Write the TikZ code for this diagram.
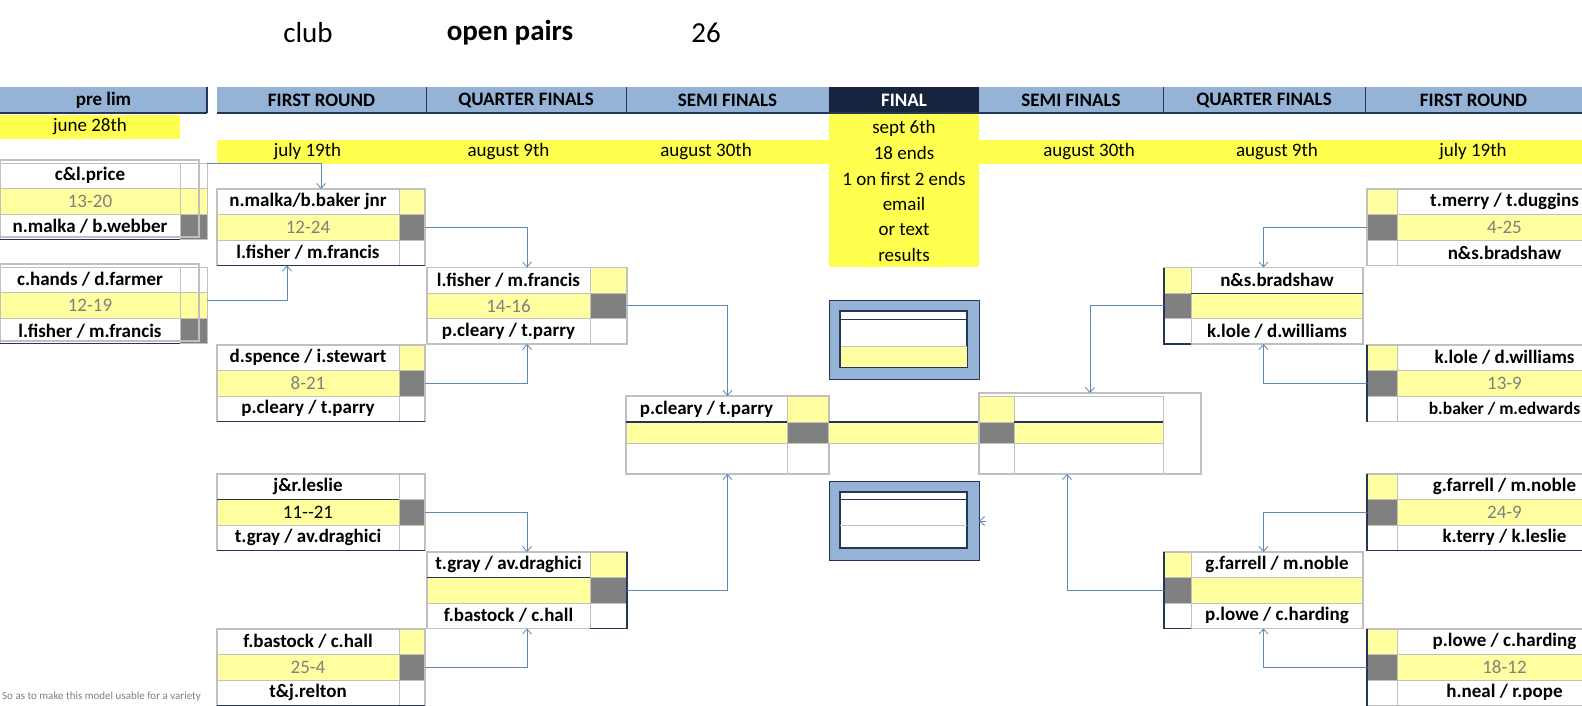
\documentclass[tikz,border=0pt]{standalone}
\usepackage{fontspec}
\setmainfont{Carlito}
\usetikzlibrary{arrows.meta,calc}
\definecolor{hdrblue}{RGB}{149,179,215}
\definecolor{navy}{RGB}{22,36,62}
\definecolor{dateyel}{RGB}{255,255,80}
\definecolor{lightyel}{RGB}{255,255,160}
\definecolor{dgray}{RGB}{128,128,128}
\definecolor{frgray}{RGB}{192,192,192}
\definecolor{connblue}{RGB}{95,135,190}
\definecolor{bnavy}{RGB}{38,54,88}
\newcommand\namef{\fontsize{19}{22}\selectfont\bfseries}
\newcommand\datef{\fontsize{19}{22}\selectfont}
\tikzset{
 cell/.style={draw=frgray,line width=0.8pt,inner sep=0pt,outer sep=0pt,anchor=north west,minimum height=25.5pt},
 boxframe/.style={draw=frgray,line width=1.6pt,inner sep=0pt,outer sep=0pt,anchor=north west},
 hdr/.style={fill=hdrblue,inner sep=0pt,outer sep=0pt,anchor=north west,minimum height=26pt,font=\namef},
 band/.style={fill=dateyel,inner sep=0pt,outer sep=0pt,anchor=north west},
 datetxt/.style={font=\datef,inner sep=0pt},
 conn/.style={draw=connblue,line width=0.8pt,-{Straight Barb[length=5pt,width=9pt]}},
 dark/.style={draw=bnavy,line width=1.4pt},
 finout/.style={fill=hdrblue,draw=bnavy,line width=1pt,anchor=north west,inner sep=0pt,outer sep=0pt,minimum width=150pt,minimum height=79pt},
 finin/.style={fill=white,draw=bnavy,line width=1.2pt,anchor=north west,inner sep=0pt,outer sep=0pt,minimum width=127pt,minimum height=56pt},
}
% box with small column on the right: name,x,y,wname,wsmall,top,score,bottom,c1colour
\newcommand\LBox[9]{%
 \node[cell,fill=white,minimum width=#4pt,font=\namef] (#1n) at (#2,#3) {#6};
 \node[cell,fill=lightyel,minimum width=#4pt,font=\datef,text=dgray] (#1s) at (#2,#3+25.5) {#7};
 \node[cell,fill=white,minimum width=#4pt,font=\namef] (#1b) at (#2,#3+51) {#8};
 \node[cell,fill=#9,minimum width=#5pt] (#1c1) at (#2+#4,#3) {};
 \node[cell,fill=dgray,minimum width=#5pt] (#1c2) at (#2+#4,#3+25.5) {};
 \node[cell,fill=white,minimum width=#5pt] (#1c3) at (#2+#4,#3+51) {};
 \node[boxframe,minimum width=#4pt+#5pt,minimum height=76.5pt] (#1) at (#2,#3) {};
}
% box with small column on the left: name,x,y,wsmall,wname,top,score,bottom,c1colour
\newcommand\RBox[9]{%
 \node[cell,fill=#9,minimum width=#4pt] (#1c1) at (#2,#3) {};
 \node[cell,fill=dgray,minimum width=#4pt] (#1c2) at (#2,#3+25.5) {};
 \node[cell,fill=white,minimum width=#4pt] (#1c3) at (#2,#3+51) {};
 \node[cell,fill=white,minimum width=#5pt,font=\namef] (#1n) at (#2+#4,#3) {#6};
 \node[cell,fill=lightyel,minimum width=#5pt,font=\datef,text=dgray] (#1s) at (#2+#4,#3+25.5) {#7};
 \node[cell,fill=white,minimum width=#5pt,font=\namef] (#1b) at (#2+#4,#3+51) {#8};
 \node[boxframe,minimum width=#4pt+#5pt,minimum height=76.5pt] (#1) at (#2,#3) {};
}
% preliminary box: name,x,y,top,score,bottom
\newcommand\PBox[6]{%
 \node[cell,fill=white,minimum width=180pt,font=\namef] (#1n) at (#2,#3) {#4};
 \node[cell,fill=lightyel,minimum width=180pt,font=\datef,text=dgray] (#1s) at (#2,#3+25.5) {#5};
 \node[cell,fill=white,minimum width=180pt,font=\namef] (#1b) at (#2,#3+51) {#6};
 \node[cell,fill=white,minimum width=27pt] (#1c1) at (#2+180,#3) {};
 \node[cell,fill=lightyel,minimum width=27pt] (#1c2) at (#2+180,#3+25.5) {};
 \node[cell,fill=dgray,minimum width=27pt] (#1c3) at (#2+180,#3+51) {};
 \node[boxframe,minimum width=199pt,minimum height=77pt] (#1) at (#2,#3-3) {};
 \draw[dark] (#1b.south west) -- (#1b.south east);
}
\begin{document}
\begin{tikzpicture}[x=1pt,y=-1pt]
\useasboundingbox[fill=white] (0,0) rectangle (1582,706);

% title
\node[font=\fontsize{29}{34}\selectfont] (tclub) at (308,33) {club};
\node[font=\fontsize{29}{34}\selectfont\bfseries] (topen) at (510,33) {open pairs};
\node[font=\fontsize{29}{34}\selectfont] (tnum) at (706,33) {26};

% date bands
\node[band,minimum width=180pt,minimum height=24pt] (d0) at (0,115) {};
\node[band,minimum width=1365pt,minimum height=24pt] (d1) at (217,140) {};
\node[band,minimum width=150pt,minimum height=154pt] (dfin) at (829,113) {};
\node[datetxt] (t0) at (90,127) {june 28th};
\node[datetxt] (t1) at (307.5,152) {july 19th};
\node[datetxt] (t2) at (508.5,152) {august 9th};
\node[datetxt] (t3) at (706,152) {august 30th};
\node[datetxt] (t4) at (1089,152) {august 30th};
\node[datetxt] (t5) at (1277,152) {august 9th};
\node[datetxt] (t6) at (1473,152) {july 19th};
\node[datetxt] (f1) at (904,128) {sept 6th};
\node[datetxt] (f2) at (904,153.3) {18 ends};
\node[datetxt] (f3) at (904,178.6) {1 on first 2 ends};
\node[datetxt] (f4) at (904,203.9) {email};
\node[datetxt] (f5) at (904,229.2) {or text};
\node[datetxt] (f6) at (904,254.5) {results};

% headers
\node[hdr,minimum width=207pt] (hpre) at (0,87) {pre lim};
\node[hdr,minimum width=209pt] (hfr) at (217,87) {FIRST ROUND};
\node[hdr,minimum width=200pt] (hqf) at (426,87) {QUARTER FINALS};
\node[hdr,minimum width=203pt] (hsf) at (626,87) {SEMI FINALS};
\node[hdr,minimum width=150pt,fill=navy,text=white] (hfin) at (829,87) {FINAL};
\node[hdr,minimum width=184pt] (hsf2) at (979,87) {SEMI FINALS};
\node[hdr,minimum width=202pt] (hqf2) at (1163,87) {QUARTER FINALS};
\node[hdr,minimum width=217pt] (hfr2) at (1365,87) {FIRST ROUND};
\draw[dark,line width=1.8pt] (hpre.south west) -- (hpre.south east);
\draw[dark,line width=1.8pt] (hfr.south west) -- (hfr2.south east);
\draw[dark,line width=2.2pt] (hpre.north east) -- (hpre.south east);
\draw[dark,line width=1pt] (hfr.north east) -- (hfr.south east);
\draw[dark,line width=1pt] (hqf.north east) -- (hqf.south east);
\draw[dark,line width=1pt] (hsf2.north east) -- (hsf2.south east);
\draw[dark,line width=1pt] (hqf2.north east) -- (hqf2.south east);

% footnote
\node[anchor=west,font=\fontsize{11}{13}\selectfont,text=dgray,inner sep=0pt] (note) at (2,697) {So as to make this model usable for a variety};

% preliminary
\PBox{p1}{0}{163}{c\&l.price}{13-20}{n.malka / b.webber}
\PBox{p2}{0}{267}{c.hands / d.farmer}{12-19}{l.fisher / m.francis}

% first round left
\LBox{fra}{217}{189}{182}{26}{n.malka/b.baker jnr}{12-24}{l.fisher / m.francis}{lightyel}
\LBox{frb}{217}{345}{182}{26}{d.spence / i.stewart}{8-21}{p.cleary / t.parry}{lightyel}
\LBox{frc}{217}{474}{182}{26}{j\&r.leslie}{\color{black}11-{}-21}{t.gray / av.draghici}{white}
\LBox{frd}{217}{629}{182}{26}{f.bastock / c.hall}{25-4}{t\&j.relton}{lightyel}
\foreach \b in {fra,frb,frc,frd}{\draw[dark] (\b.south west) -- (\b.south east);}
\draw[dark,line width=1pt] (frcs.north west) -- (frcs.north east);

% quarter finals left
\LBox{qfa}{427}{267.5}{163}{37}{l.fisher / m.francis}{14-16}{p.cleary / t.parry}{lightyel}
\LBox{qfb}{427}{552}{163}{37}{t.gray / av.draghici}{}{f.bastock / c.hall}{lightyel}
\draw[dark] (qfbc3.south west) -- (qfbc3.south east) -- (qfbc1.north east);
\draw[dark,line width=1pt] (qfbs.north west) -- (qfbs.north east);

% semi final left
\node[cell,fill=white,minimum width=161pt,minimum height=26pt,font=\namef] (sfln) at (626,396) {p.cleary / t.parry};
\node[cell,fill=lightyel,minimum width=161pt,minimum height=21pt] (sfls) at (626,422) {};
\node[cell,fill=white,minimum width=161pt,minimum height=31pt] (sflb) at (626,443) {};
\node[cell,fill=lightyel,minimum width=42pt,minimum height=26pt] (sflc1) at (787,396) {};
\node[cell,fill=dgray,minimum width=42pt,minimum height=21pt] (sflc2) at (787,422) {};
\node[cell,fill=white,minimum width=42pt,minimum height=31pt] (sflc3) at (787,443) {};
\node[boxframe,minimum width=203pt,minimum height=78pt] (sfl) at (626,396) {};
\draw[dark] (sfls.north west) -- (sfls.north east);

% centre band
\node[fill=lightyel,anchor=north west,inner sep=0pt,outer sep=0pt,minimum width=150pt,minimum height=21pt] (cband) at (829,422) {};
\draw[dark] (cband.north west) -- (cband.north east);
\draw[frgray,line width=0.8pt] (cband.south west) -- (cband.south east);

% semi final right
\node[cell,fill=lightyel,minimum width=35pt,minimum height=26pt] (sfrc1) at (979,396) {};
\node[cell,fill=dgray,minimum width=35pt,minimum height=21pt] (sfrc2) at (979,422) {};
\node[cell,fill=white,minimum width=35pt,minimum height=31pt] (sfrc3) at (979,443) {};
\node[cell,fill=white,minimum width=149pt,minimum height=26pt] (sfrn) at (1014,396) {};
\node[cell,fill=lightyel,minimum width=149pt,minimum height=21pt] (sfrs) at (1014,422) {};
\node[cell,fill=white,minimum width=149pt,minimum height=31pt] (sfrb) at (1014,443) {};
\node[boxframe,minimum width=222pt,minimum height=81pt] (sfr) at (979,393) {};
\draw[dark] (sfrs.north west) -- (sfrs.north east);

% quarter finals right
\RBox{qra}{1164}{267.5}{27}{172}{n\&s.bradshaw}{}{k.lole / d.williams}{lightyel}
\RBox{qrb}{1164}{552}{27}{172}{g.farrell / m.noble}{}{p.lowe / c.harding}{lightyel}
\draw[dark] (qrac1.north west) -- (qrac3.south west) -- (qrac3.south east);
\draw[dark] (qrbc1.north west) -- (qrbc3.south west) -- (qrbc3.south east);
\draw[dark,line width=1pt] (qras.north west) -- (qras.north east);

% first round right
\RBox{fza}{1367}{189}{30}{215}{t.merry / t.duggins}{4-25}{n\&s.bradshaw}{lightyel}
\RBox{fzb}{1367}{345}{30}{215}{k.lole / d.williams}{13-9}{\fontsize{17.5}{20}\selectfont b.baker / m.edwards}{lightyel}
\RBox{fzc}{1367}{474}{30}{215}{g.farrell / m.noble}{24-9}{k.terry / k.leslie}{lightyel}
\RBox{fzd}{1367}{629}{30}{215}{p.lowe / c.harding}{18-12}{h.neal / r.pope}{lightyel}
\foreach \b in {fzb,fzc,fzd}{\draw[dark] (\b.north west) -- (\b.south west);}
\draw[dark] (fzc.south west) -- (fzc.south east);

% final boxes
\node[finout] (fu) at (829,300) {};
\node[finin] (fui) at (840,311) {};
\node[fill=lightyel,anchor=north west,inner sep=0pt,outer sep=0pt,minimum width=126pt,minimum height=21pt] (fuy) at (840.6,346) {};
\draw[bnavy,line width=0.9pt] (840,319) -- (967,319);
\draw[frgray,line width=0.9pt] (fuy.north west) -- (fuy.north east);
\node[finout] (fl) at (829,481) {};
\node[finin] (fli) at (840,492) {};
\draw[bnavy,line width=0.9pt] (840,499) -- (967,499);
\draw[frgray,line width=0.9pt] (840,525) -- (967,525);

% connectors
\draw[conn] (p1c1.north east) -| (fra.north);
\draw[conn] ([yshift=5pt]p2c2.east) -| ([xshift=-34pt]fra.south);
\draw[conn] (frac2.east) -| (qfa.north);
\draw[conn] (frbc2.east) -| (qfa.south);
\draw[conn] (frcc2.east) -| (qfb.north);
\draw[conn] (frdc2.east) -| (qfb.south);
\draw[conn] (qfac2.east) -| (sfl.north);
\draw[conn] (qfbc2.east) -| (sfl.south);
\draw[conn] (fzac2.west) -| (qra.north);
\draw[conn] (fzbc2.west) -| (qra.south);
\draw[conn] (fzcc2.west) -| (qrb.north);
\draw[conn] (fzdc2.west) -| (qrb.south);
\draw[conn] (qrac2.west) -| (sfr.north);
\draw[conn] (qrbc2.west) -| ([xshift=-23pt]sfr.south);
\coordinate (lstub) at (986,521);
\draw[conn] (lstub) -- (lstub -| fl.east);
\end{tikzpicture}
\end{document}
